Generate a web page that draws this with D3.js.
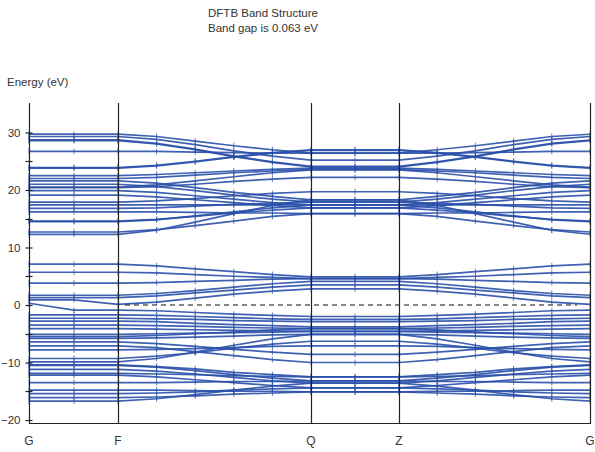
<!DOCTYPE html>
<html>
<head>
<meta charset="utf-8">
<script src="https://cdn.jsdelivr.net/npm/d3@7"></script>
<style>
  html, body { margin: 0; padding: 0; background: #fff; }
  svg { display: block; }
  text { font-family: "Liberation Sans", Arial, sans-serif; fill: #333; }
</style>
</head>
<body>
<svg id="chart" width="595" height="452"></svg>
<script>
// ---- data ----
const titleLines = ["DFTB Band Structure", "Band gap is 0.063 eV"];
const yAxisTitle = "Energy (eV)";
// k-path coordinates (path length units) of the 15 sampled k-points
const kPath = [0, 45, 89, 127.6, 166.2, 204.8, 243.4, 282, 326, 370, 408.2, 446.4, 484.6, 522.8, 561];
const kLabels = ["G", "F", "Q", "Z", "G"];
const kLabelIndex = [0, 2, 7, 9, 14];
const yTicksMajor = [-20, -10, 0, 10, 20, 30];
const yTicksMinor = [-15, -5, 5, 15, 25];
const fermiLevel = 0;
const fermiSpan = [96, 548];
// Band energies (eV) at G, k1, F, k3, k4, k5, k6, Q ; the path Q-Z is flat and Z-G retraces F-Q
const bandsUpper = [
  [29.7,29.7,29.7,29.3,28.5,27.7,27.0,26.4],
  [29.3,29.3,29.3,28.8,27.9,26.8,25.9,25.2],
  [28.7,28.7,28.7,28.1,27.1,25.9,24.9,24.1],
  [28.6,28.6,28.6,28.0,27.0,25.8,24.8,24.0],
  [26.7,26.7,26.7,26.7,26.6,26.5,26.4,26.4],
  [23.9,23.9,23.9,24.3,25.0,25.8,26.5,27.0],
  [23.8,23.8,23.8,24.2,24.9,25.7,26.4,26.9],
  [22.5,22.5,22.5,22.7,23.0,23.3,23.6,23.8],
  [22.0,22.0,22.0,22.2,22.6,23.0,23.3,23.6],
  [21.6,21.6,21.6,21.2,20.4,19.6,18.9,18.3],
  [21.0,21.0,21.0,20.6,19.9,19.1,18.4,17.9],
  [20.5,20.5,20.5,20.9,21.6,22.3,23.0,23.5],
  [20.4,20.4,20.4,20.6,21.0,21.5,21.9,22.2],
  [19.9,19.9,19.9,19.6,19.0,18.4,17.8,17.4],
  [19.1,19.1,19.1,18.8,18.3,17.8,17.3,16.9],
  [17.9,17.9,17.9,18.1,18.5,19.0,19.4,19.7],
  [17.4,17.4,17.4,17.4,17.4,17.4,17.4,17.4],
  [16.8,16.8,16.8,16.9,17.2,17.5,17.7,17.9],
  [16.2,16.2,16.2,16.2,16.1,16.0,16.0,15.9],
  [14.6,14.6,14.6,14.9,15.4,16.0,16.5,16.9],
  [14.5,14.5,14.5,14.8,15.5,16.2,16.9,17.4],
  [12.7,12.7,12.7,13.1,13.8,14.6,15.4,15.9],
  [12.3,12.3,12.3,13.0,14.4,15.9,17.3,18.3]
];
const bandsMiddle = [
  [7.1,7.1,7.1,6.8,6.3,5.8,5.3,4.9],
  [5.7,5.7,5.7,5.6,5.3,5.0,4.8,4.6],
  [3.8,3.8,3.8,3.9,4.1,4.3,4.5,4.6],
  [1.7,1.7,1.7,2.0,2.5,3.1,3.7,4.1],
  [1.3,1.3,1.3,1.6,2.1,2.6,3.1,3.5],
  [0.9,0.9,0.1,0.5,1.2,1.9,2.4,2.8]
];
const bandsLower = [
  [0.3,-0.9,-0.9,-1.0,-1.3,-1.6,-1.8,-2.0],
  [-1.7,-1.7,-1.7,-1.8,-2.0,-2.2,-2.4,-2.5],
  [-2.3,-2.3,-2.3,-2.4,-2.5,-2.7,-2.8,-2.9],
  [-2.8,-2.8,-2.8,-2.9,-3.2,-3.4,-3.6,-3.8],
  [-3.5,-3.5,-3.5,-3.6,-3.7,-3.9,-4.0,-4.1],
  [-4.1,-4.1,-4.1,-4.2,-4.3,-4.4,-4.5,-4.6],
  [-5.1,-5.1,-5.1,-5.0,-4.9,-4.8,-4.7,-4.6],
  [-5.5,-5.5,-5.5,-5.3,-5.0,-4.7,-4.3,-4.1],
  [-5.8,-5.8,-5.8,-5.7,-5.6,-5.4,-5.2,-5.1],
  [-6.4,-6.4,-6.4,-6.7,-7.2,-7.7,-8.2,-8.6],
  [-7.1,-7.1,-7.1,-7.4,-8.1,-8.8,-9.5,-10.0],
  [-7.8,-7.8,-7.8,-7.7,-7.6,-7.4,-7.2,-7.1],
  [-9.3,-9.3,-9.3,-8.9,-8.3,-7.5,-6.8,-6.3],
  [-9.9,-9.9,-9.9,-9.3,-8.2,-7.0,-5.9,-5.1],
  [-10.4,-10.4,-10.4,-10.7,-11.1,-11.7,-12.1,-12.5],
  [-10.5,-10.5,-10.5,-10.8,-11.4,-12.1,-12.7,-13.2],
  [-11.2,-11.2,-11.2,-11.5,-12.0,-12.6,-13.2,-13.6],
  [-11.9,-11.9,-11.9,-12.0,-12.1,-12.3,-12.4,-12.5],
  [-12.2,-12.2,-12.2,-12.5,-13.0,-13.5,-14.0,-14.4],
  [-13.5,-13.5,-13.5,-13.5,-13.4,-13.3,-13.3,-13.2],
  [-14.8,-14.8,-14.8,-14.8,-14.9,-15.0,-15.0,-15.1],
  [-15.4,-15.4,-15.4,-15.3,-15.1,-14.8,-14.6,-14.4],
  [-16.1,-16.1,-16.1,-16.0,-15.8,-15.5,-15.3,-15.1],
  [-16.7,-16.7,-16.7,-16.3,-15.6,-14.8,-14.1,-13.6]
];

// ---- build full path (G-F-Q-Z-G) ----
function fullPath(b) {
  return [b[0], b[1], b[2], b[3], b[4], b[5], b[6], b[7], b[7], b[7], b[6], b[5], b[4], b[3], b[2]];
}
const bands = bandsUpper.concat(bandsMiddle, bandsLower).map(fullPath);

// ---- drawing ----
const svg = d3.select("#chart");
const pLeft = 29, pRight = 590, pTop = 103, pBottom = 423;
const x = d3.scaleLinear().domain([kPath[0], kPath[kPath.length - 1]]).range([pLeft, pRight]);
const y = d3.scaleLinear().domain([-20.52, 35.13]).range([pBottom, pTop]);

const blue = "#2a50aa";

// bands
const line = d3.line().x((d, i) => x(kPath[i])).y(d => y(d));
const gBands = svg.append("g");
gBands.selectAll("path").data(bands).join("path")
  .attr("d", line).attr("fill", "none")
  .attr("stroke", blue).attr("stroke-width", 1.7).attr("stroke-opacity", 0.9);

// point markers (short vertical ticks)
const pts = [];
bands.forEach(b => b.forEach((v, i) => pts.push([kPath[i], v])));
gBands.selectAll("line").data(pts).join("line")
  .attr("x1", d => x(d[0])).attr("x2", d => x(d[0]))
  .attr("y1", d => y(d[1]) - 3).attr("y2", d => y(d[1]) + 3)
  .attr("stroke", blue).attr("stroke-width", 1).attr("stroke-opacity", 0.7);

// fermi level
svg.append("line")
  .attr("x1", x(fermiSpan[0])).attr("x2", x(fermiSpan[1]))
  .attr("y1", y(fermiLevel)).attr("y2", y(fermiLevel))
  .attr("stroke", "#111").attr("stroke-width", 1.2).attr("stroke-dasharray", "5,4");

// vertical symmetry lines
svg.append("g").selectAll("line").data(kLabelIndex).join("line")
  .attr("x1", d => Math.round(x(kPath[d])) + 0.5).attr("x2", d => Math.round(x(kPath[d])) + 0.5)
  .attr("y1", pTop).attr("y2", pBottom)
  .attr("stroke", "#222").attr("stroke-width", 1.2);

// bottom axis line
svg.append("line").attr("x1", pLeft).attr("x2", pRight + 1)
  .attr("y1", pBottom + 0.5).attr("y2", pBottom + 0.5)
  .attr("stroke", "#222").attr("stroke-width", 1.2);

// y axis ticks
const yAxis = d3.axisLeft(y).tickValues(yTicksMajor).tickSize(4).tickPadding(5);
const gy = svg.append("g").attr("transform", `translate(${pLeft + 0.5},0)`).call(yAxis);
gy.select(".domain").remove();
gy.selectAll(".tick line").attr("x2", -4).attr("x1", 3).attr("stroke", "#222").attr("stroke-width", 1.2);
gy.selectAll(".tick text").style("font-size", "11.5px").attr("fill", "#333")
  .style("font-family", "'Liberation Sans', Arial, sans-serif");
svg.append("g").selectAll("line").data(yTicksMinor).join("line")
  .attr("x1", pLeft - 3.5).attr("x2", pLeft + 3.5)
  .attr("y1", d => Math.round(y(d)) + 0.5).attr("y2", d => Math.round(y(d)) + 0.5)
  .attr("stroke", "#222").attr("stroke-width", 1.2);

// x labels
svg.append("g").selectAll("text").data(kLabelIndex).join("text")
  .attr("x", d => x(kPath[d])).attr("y", 445)
  .attr("text-anchor", "middle").style("font-size", "12px")
  .text((d, i) => kLabels[i]);

// titles
svg.append("g").selectAll("text").data(titleLines).join("text")
  .attr("x", 263).attr("y", (d, i) => 17 + i * 15)
  .attr("text-anchor", "middle").style("font-size", "11.5px")
  .text(d => d);
svg.append("text").attr("x", 7).attr("y", 86).style("font-size", "11.5px").text(yAxisTitle);
</script>
</body>
</html>
